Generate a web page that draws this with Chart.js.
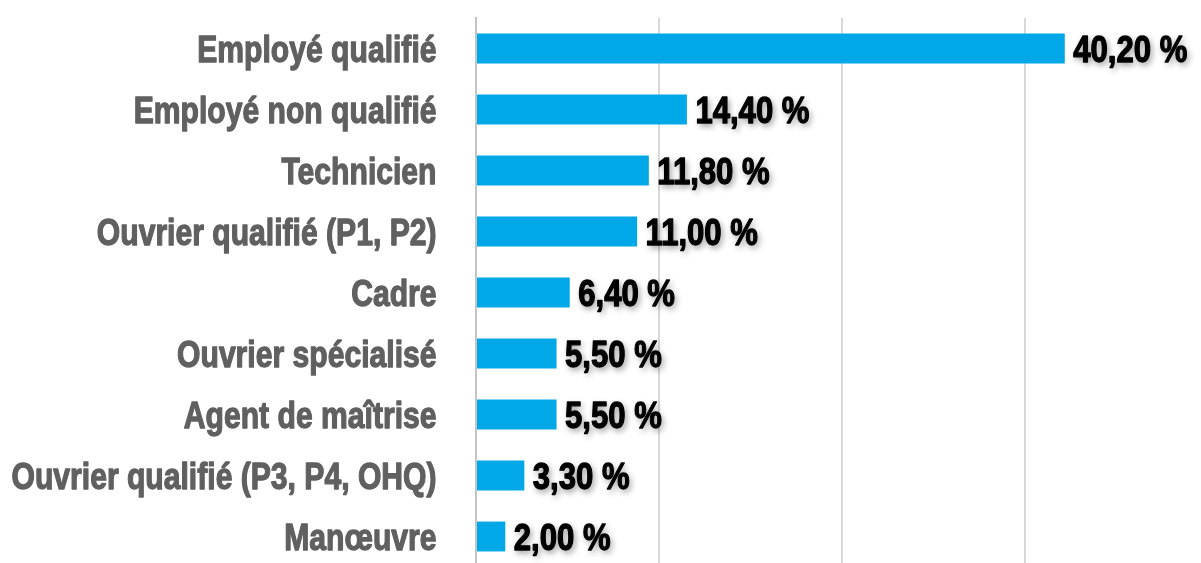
<!DOCTYPE html>
<html>
<head>
<meta charset="utf-8">
<script src="https://cdn.jsdelivr.net/npm/chart.js@4/dist/chart.umd.min.js"></script>
<style>
html,body{margin:0;padding:0;background:#fff;overflow:hidden;}
#wrap{position:relative;width:1201px;height:580px;}
</style>
</head>
<body>
<div id="wrap"><canvas id="c"></canvas></div>
<script>
const categories = [
  "Employé qualifié",
  "Employé non qualifié",
  "Technicien",
  "Ouvrier qualifié (P1, P2)",
  "Cadre",
  "Ouvrier spécialisé",
  "Agent de maîtrise",
  "Ouvrier qualifié (P3, P4, OHQ)",
  "Manœuvre"
];
const values = [40.2, 14.4, 11.8, 11.0, 6.4, 5.5, 5.5, 3.3, 2.0];
const valueLabels = ["40,20 %", "14,40 %", "11,80 %", "11,00 %", "6,40 %", "5,50 %", "5,50 %", "3,30 %", "2,00 %"];
const gridTicks = [0, 12.5, 25, 37.5];

const FAMILY = "'Liberation Sans', Arial, sans-serif";
const FONT = "bold 37px " + FAMILY;

const textPlugin = {
  id: 'texts',
  afterDatasetsDraw(chart) {
    const ctx = chart.ctx;
    const meta = chart.getDatasetMeta(0);
    const yScale = chart.scales.y;
    ctx.save();
    ctx.font = FONT;
    // horizontal condensing to mimic a condensed bold face
    const sxLab = 425 / ctx.measureText(categories[7]).width;
    const sxVal = 114 / ctx.measureText(valueLabels[0]).width;
    ctx.textBaseline = "alphabetic";
    ctx.lineJoin = "round";

    // category labels
    ctx.fillStyle = "#606060";
    ctx.strokeStyle = "#606060";
    ctx.lineWidth = 1.3;
    ctx.textAlign = "right";
    categories.forEach((lab, i) => {
      const y = yScale.getPixelForValue(i);
      ctx.save();
      ctx.translate(436.5, y + 13.5);
      ctx.scale(sxLab, 1);
      ctx.fillText(lab, 0, 0);
      ctx.strokeText(lab, 0, 0);
      ctx.restore();
    });

    // value labels with soft shadow
    ctx.fillStyle = "#000";
    ctx.strokeStyle = "#000";
    ctx.textAlign = "left";
    ctx.shadowColor = "rgba(0,0,0,0.45)";
    ctx.shadowBlur = 6;
    ctx.shadowOffsetX = 2;
    ctx.shadowOffsetY = 3;
    meta.data.forEach((bar, i) => {
      ctx.save();
      ctx.translate(bar.x + 8.5, bar.y + 13.5);
      ctx.scale(sxVal, 1);
      ctx.fillText(valueLabels[i], 0, 0);
      ctx.shadowColor = "rgba(0,0,0,0)";
      ctx.strokeText(valueLabels[i], 0, 0);
      ctx.restore();
    });
    ctx.restore();
  }
};

new Chart(document.getElementById('c'), {
  type: 'bar',
  data: {
    labels: categories,
    datasets: [{
      data: values,
      backgroundColor: '#00A8E7',
      borderWidth: 0,
      categoryPercentage: 1,
      barPercentage: 0.49
    }]
  },
  options: {
    indexAxis: 'y',
    responsive: true,
    maintainAspectRatio: false,
    animation: false,
    layout: { padding: { top: 18, bottom: 13, left: 0, right: 0 } },
    plugins: { legend: { display: false }, tooltip: { enabled: false } },
    scales: {
      x: {
        min: 0,
        max: 49.5,
        ticks: { display: false, stepSize: 12.5 },
        border: { display: false },
        grid: {
          drawTicks: false,
          lineWidth: 2,
          color: (c) => gridTicks.includes(c.tick.value) ? '#d9d9d9' : 'rgba(0,0,0,0)'
        },
        afterFit(s) { s.height = 0; s.paddingLeft = 0; s.paddingRight = 0; }
      },
      y: {
        ticks: { display: false },
        grid: { display: false, drawTicks: false },
        border: { display: true, color: '#c4c4c4', width: 2 },
        afterFit(s) { s.width = 476; s.paddingTop = 0; s.paddingBottom = 0; }
      }
    }
  },
  plugins: [textPlugin]
});
</script>
</body>
</html>
